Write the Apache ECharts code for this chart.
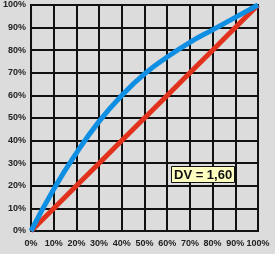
<!DOCTYPE html>
<html><head><meta charset="utf-8">
<script src="https://cdn.jsdelivr.net/npm/echarts@6/dist/echarts.min.js"></script>
<style>html,body{margin:0;padding:0;background:#dcdcdc}#c{width:275px;height:254px}</style>
</head><body><div id="c"></div>
<script>
const xValues = [0, 10, 20, 30, 40, 50, 60, 70, 80, 90, 100];
const curveValues = [0, 18.5, 34.5, 48.5, 60, 69.5, 77, 83.5, 89, 94.5, 100];
const diagonalValues = [0, 10, 20, 30, 40, 50, 60, 70, 80, 90, 100];
const labelText = 'DV = 1,60';

const chart = echarts.init(document.getElementById('c'), null, {renderer: 'canvas'});
const lbl = {fontFamily: 'Liberation Sans, Arial', fontSize: 9, fontWeight: 'bold', color: '#222', formatter: '{value}%'};
const gridLine = {show: true, lineStyle: {color: '#111', width: 2}};
chart.setOption({
  backgroundColor: '#dcdcdc',
  animation: false,
  grid: {left: 31, top: 5, right: 17, bottom: 23, show: true, borderColor: '#111', borderWidth: 2, backgroundColor: 'transparent'},
  xAxis: {type: 'value', min: 0, max: 100, interval: 10,
    axisLine: {show: true, lineStyle: {color: '#111', width: 2}}, axisTick: {show: false},
    splitLine: gridLine, axisLabel: Object.assign({margin: 8}, lbl)},
  yAxis: {type: 'value', min: 0, max: 100, interval: 10,
    axisLine: {show: true, lineStyle: {color: '#111', width: 2}}, axisTick: {show: false},
    splitLine: gridLine, axisLabel: Object.assign({margin: 5}, lbl)},
  title: {text: labelText, left: 171, top: 166,
    padding: [2, 3, 1, 3],
    backgroundColor: '#ffffc0', borderColor: '#111', borderWidth: 1,
    textStyle: {fontFamily: 'Liberation Sans, Arial', fontSize: 13, fontWeight: 'bold', color: '#111', lineHeight: 14}},
  series: [
    {type: 'line', data: xValues.map((x, i) => [x, diagonalValues[i]]), showSymbol: false,
      lineStyle: {color: '#e0321c', width: 5}, z: 3},
    {type: 'line', data: xValues.map((x, i) => [x, curveValues[i]]), showSymbol: false, smooth: 0.5,
      lineStyle: {color: '#0f8fe3', width: 5}, z: 4}
  ]
});
</script></body></html>
